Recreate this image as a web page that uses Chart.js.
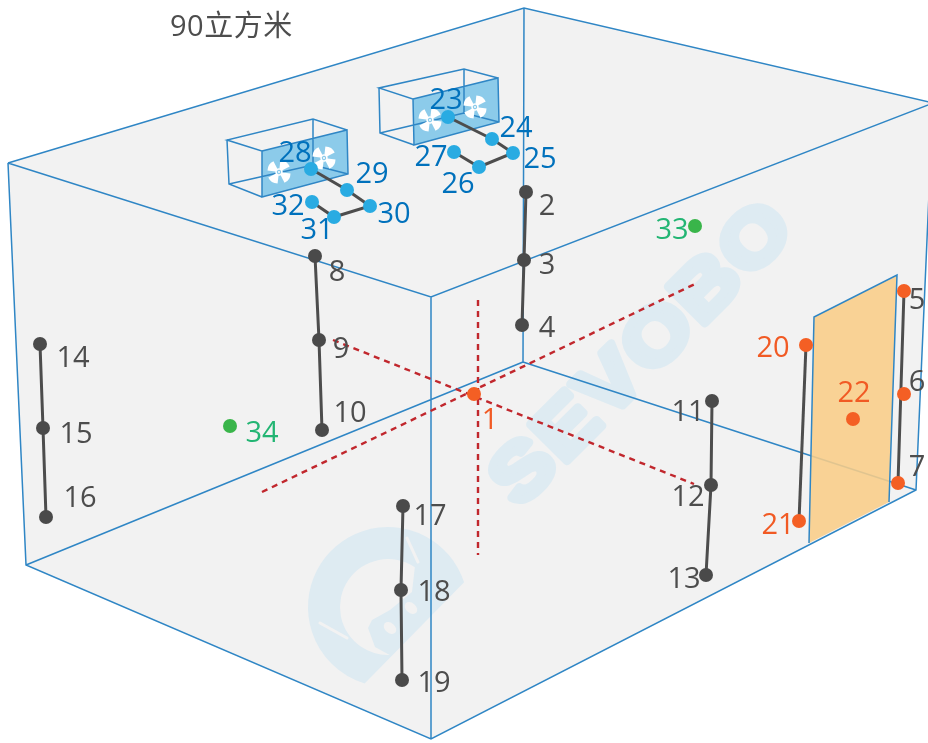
<!DOCTYPE html>
<html lang="zh">
<head>
<meta charset="utf-8">
<title>90立方米</title>
<script src="https://cdn.jsdelivr.net/npm/chart.js@4"></script>
<style>html,body{margin:0;padding:0;background:#fff}canvas{display:block}</style>
</head>
<body>
<canvas id="c" width="928" height="743"></canvas>
<script>
// ---- Data (diagram coordinates) ----
const titleText = "90立方米";
const watermarkText = "SEVOBO";

const roomX = [8, 524, 933, 916, 431, 26];
const roomY = [163, 8, 103, 490, 739, 565];
const roomEdgesX = [8,524,933,null, 8,431,933,null, 524,523,null, 523,26,null, 523,916,null, 8,26,431,916,933,null, 431,431];
const roomEdgesY = [163,8,103,null, 163,297,103,null, 8,362,null, 362,565,null, 362,490,null, 163,565,739,490,103,null, 297,739];

const doorX = [814, 897, 889, 809];
const doorY = [317, 275, 502, 543];
const doorEdgesX = [809, 814, 897, 889];
const doorEdgesY = [543, 317, 275, 502];

const unitAFaceX = [413, 498, 499, 414];
const unitAFaceY = [99, 78, 122, 145];
const unitAEdgesX = [413,498,499,414,413,379,464,498,null, 379,380,414,null, 380,464,499,null, 464,464];
const unitAEdgesY = [99,78,122,145,99,88,69,78,null, 88,133,145,null, 133,113,122,null, 69,113];
const unitBFaceX = [262, 347, 348, 262];
const unitBFaceY = [151, 130, 174, 197];
const unitBEdgesX = [262,347,348,262,262,227,313,347,null, 227,229,262,null, 229,313,348,null, 313,313];
const unitBEdgesY = [151,130,174,197,151,140,119,130,null, 140,184,197,null, 184,165,174,null, 119,165];
const fanX = [430, 475, 279, 324];
const fanY = [120, 107, 172, 158];

const dashLineAX = [262, 697];
const dashLineAY = [492, 283];
const dashLineBX = [478, 478];
const dashLineBY = [300, 555];
const dashLineCX = [333, 694];
const dashLineCY = [340, 484];

const sensorIds = [1,2,3,4,5,6,7,8,9,10,11,12,13,14,15,16,17,18,19,20,21,22,23,24,25,26,27,28,29,30,31,32,33,34];
const sensorX = [474,526,524,522,904,904,898,315,319,322,712,711,706,40,43,46,403,401,402,806,799,853,448,492,513,479,454,311,347,370,334,312,695,230];
const sensorY = [394,192,260,325,291,394,483,256,340,430,401,485,575,344,428,517,506,590,680,345,521,419,117,139,153,167,152,169,190,206,217,202,226,426];
const orangeIds = [1,5,6,7,20,21,22];
const blueIds = [23,24,25,26,27,28,29,30,31,32];
const greenIds = [33,34];
const wireGroups = [[2,3,4],[5,7],[8,9,10],[11,12,13],[14,15,16],[17,18,19],[20,21],[23,24,25,26,27],[28,29,30,31,32]];

const labelX = [490,547,547,547,917,917,917,337,341,350,688,688,684,73,76,80,430,434,434,773,778,854,446,516,540,458,431,295,372,394,317,288,672,262];
const labelY = [421,207,266,329,301,383,468,273,350,414,413,498,580,359,435,499,517,593,684,349,526,394,101,129,160,185,158,154,175,215,231,207,231,434];

// ---- Styles ----
const BLUE_LINE = "#2f86c5", FLOOR = "#f2f2f2", MARK = "#deebf2";
const DARK = "#4a4a4a", ORANGE = "#f45f24", SKY = "#29abe2", GREEN = "#39b54a";
const idx = id => sensorIds.indexOf(id);
const pts = (xs, ys) => xs.map((x, i) => ({x, y: ys[i]}));
const groupColor = id => orangeIds.includes(id) ? ORANGE : blueIds.includes(id) ? SKY : greenIds.includes(id) ? GREEN : DARK;
const labelColor = id => orangeIds.includes(id) && id !== 5 && id !== 6 && id !== 7 ? "#f15a24" : blueIds.includes(id) ? "#0071bc" : id === 33 || id === 34 ? "#22b573" : "#4d4d4d";

function makeFan() {
  const c = document.createElement("canvas"); c.width = 26; c.height = 26;
  const g = c.getContext("2d");
  g.translate(13, 13); g.rotate(0.25);
  g.fillStyle = "#fff";
  for (let i = 0; i < 4; i++) {
    g.save(); g.rotate(i * Math.PI / 2);
    g.beginPath(); g.moveTo(0, 0);
    g.lineTo(11.5, -1.5);
    g.quadraticCurveTo(13, 5, 8, 9);
    g.closePath(); g.fill(); g.restore();
  }
  g.beginPath(); g.arc(0, 0, 3.6, 0, Math.PI * 2); g.fill();
  g.fillStyle = "#8ccbea"; g.beginPath(); g.arc(0, 0, 2.2, 0, Math.PI * 2); g.fill();
  g.fillStyle = "#fff"; g.beginPath(); g.arc(0, 0, 1, 0, Math.PI * 2); g.fill();
  return c;
}
const fanImg = makeFan();

const base = {showLine: true, pointRadius: 0, pointHoverRadius: 0, tension: 0, spanGaps: false};
const datasets = [
  {...base, label: "room", data: pts(roomX, roomY), fill: "shape", backgroundColor: FLOOR, borderWidth: 0, borderColor: "transparent", order: 100},
  {...base, label: "edges", data: pts(roomEdgesX, roomEdgesY), fill: false, borderColor: BLUE_LINE, borderWidth: 1.5, order: 90},
  {...base, label: "door", data: pts(doorX, doorY), fill: "shape", backgroundColor: "rgba(249,205,135,0.88)", borderWidth: 0, borderColor: "transparent", order: 85},
  {...base, label: "door edges", data: pts(doorEdgesX, doorEdgesY), fill: false, borderColor: BLUE_LINE, borderWidth: 1.5, order: 84},
  {...base, label: "unit A face", data: pts(unitAFaceX, unitAFaceY), fill: "shape", backgroundColor: "#8ccbea", borderWidth: 0, borderColor: "transparent", order: 80},
  {...base, label: "unit B face", data: pts(unitBFaceX, unitBFaceY), fill: "shape", backgroundColor: "#8ccbea", borderWidth: 0, borderColor: "transparent", order: 80},
  {...base, label: "unit A", data: pts(unitAEdgesX, unitAEdgesY), fill: false, borderColor: BLUE_LINE, borderWidth: 1.5, order: 78},
  {...base, label: "unit B", data: pts(unitBEdgesX, unitBEdgesY), fill: false, borderColor: BLUE_LINE, borderWidth: 1.5, order: 78},
  {label: "fans", data: pts(fanX, fanY), showLine: false, pointStyle: fanImg, pointRadius: 13, order: 76},
  ...[[dashLineAX, dashLineAY], [dashLineBX, dashLineBY], [dashLineCX, dashLineCY]].map(([xs, ys], i) => (
    {...base, label: "axis " + i, data: pts(xs, ys), fill: false, borderColor: "#c1272d", borderWidth: 2.4, borderDash: [6, 5], order: 70})),
  ...wireGroups.map((g, i) => (
    {...base, label: "wire " + i, data: g.map(id => ({x: sensorX[idx(id)], y: sensorY[idx(id)]})), fill: false, borderColor: "#4d4d4d", borderWidth: 3, order: 60})),
  {label: "sensors", data: pts(sensorX, sensorY), showLine: false, pointStyle: "circle", pointRadius: 7, pointHoverRadius: 7, pointBorderWidth: 0,
    pointBackgroundColor: sensorIds.map(groupColor), order: 50}
];

const diagramPlugin = {
  id: "diagram",
  afterDatasetDraw(chart, args) {
    if (chart.data.datasets[args.index].label !== "room") return;
    const {ctx, scales: {x, y}} = chart;
    const X = v => x.getPixelForValue(v), Y = v => y.getPixelForValue(v);
    ctx.save();
    // Logo
    const cx = X(388), cy = Y(607), rad = d => d * Math.PI / 180;
    ctx.fillStyle = MARK;
    ctx.beginPath(); ctx.arc(cx, cy, 80, rad(-18), rad(107), true); ctx.closePath(); ctx.fill();
    ctx.fillStyle = FLOOR;
    ctx.beginPath(); ctx.arc(cx, cy, 48, rad(-56), rad(88), true);
    [[375,647],[368,628],[372,620],[390,610],[412,592]].forEach(p => ctx.lineTo(X(p[0]), Y(p[1])));
    ctx.closePath(); ctx.fill();
    ctx.beginPath(); ctx.ellipse(X(390), Y(628), 7, 5, rad(40), 0, Math.PI * 2); ctx.fill();
    ctx.beginPath(); ctx.ellipse(X(411), Y(608), 7, 5, rad(40), 0, Math.PI * 2); ctx.fill();
    ctx.strokeStyle = FLOOR; ctx.lineWidth = 3; ctx.lineCap = "round";
    ctx.beginPath(); ctx.moveTo(X(320), Y(623)); ctx.lineTo(X(347), Y(638));
    ctx.moveTo(X(407), Y(538)); ctx.lineTo(X(418), Y(562)); ctx.stroke();
    // Wordmark
    ctx.translate(X(640), Y(350)); ctx.rotate(rad(-45)); ctx.scale(1.15, 1);
    ctx.font = 'bold 76px "Liberation Sans"';
    ctx.textAlign = "center"; ctx.textBaseline = "alphabetic";
    ctx.letterSpacing = "3px";
    ctx.fillStyle = MARK; ctx.strokeStyle = MARK; ctx.lineWidth = 8; ctx.lineJoin = "round";
    ctx.fillText(watermarkText, 0, 27); ctx.strokeText(watermarkText, 0, 27);
    ctx.restore();
  },
  afterDatasetsDraw(chart) {
    const {ctx, scales: {x, y}} = chart;
    ctx.save();
    ctx.textAlign = "center"; ctx.textBaseline = "middle";
    ctx.font = '29px "Open Sans"';
    sensorIds.forEach((id, i) => {
      ctx.fillStyle = labelColor(id);
      ctx.fillText(String(id), x.getPixelForValue(labelX[i]), y.getPixelForValue(labelY[i]));
    });
    ctx.textAlign = "left";
    ctx.font = '29px "Open Sans","Noto Sans CJK SC"';
    ctx.letterSpacing = "0.5px";
    ctx.fillStyle = "#4d4d4d";
    ctx.fillText(titleText, x.getPixelForValue(170), y.getPixelForValue(28));
    ctx.restore();
  }
};

new Chart(document.getElementById("c"), {
  type: "scatter",
  data: {datasets},
  plugins: [diagramPlugin],
  options: {
    responsive: false,
    animation: false,
    layout: {padding: 0, autoPadding: false},
    events: [],
    scales: {
      x: {type: "linear", display: false, min: 0, max: 928},
      y: {type: "linear", display: false, min: 0, max: 743, reverse: true}
    },
    plugins: {legend: {display: false}, tooltip: {enabled: false}, title: {display: false}}
  }
});
</script>
</body>
</html>
